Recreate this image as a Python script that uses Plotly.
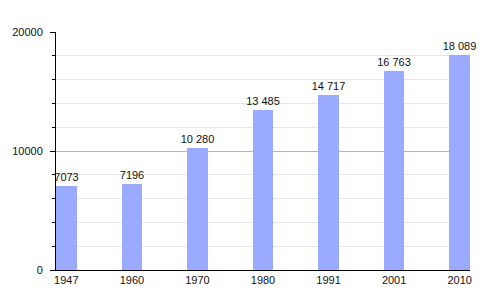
import plotly.graph_objects as go

years = ["1947", "1960", "1970", "1980", "1991", "2001", "2010"]
population = [7073, 7196, 10280, 13485, 14717, 16763, 18089]
labels = ["7073", "7196", "10 280", "13 485", "14 717", "16 763", "18 089"]

fig = go.Figure(go.Bar(
    x=years, y=population, text=labels, textposition="outside",
    texttemplate="%{text}", cliponaxis=False, constraintext="none",
    marker=dict(color="#9aabff", line=dict(width=0)),
    width=0.315,
    textfont=dict(size=11, color="#111", family="Liberation Sans, Arial, sans-serif"),
))

fig.update_layout(
    width=500, height=300,
    margin=dict(l=50, r=30, t=32, b=30),
    paper_bgcolor="white", plot_bgcolor="white",
    font=dict(family="Liberation Sans, Arial, sans-serif", size=11, color="#111"),
    showlegend=False,
    bargap=0,
)
fig.update_xaxes(
    type="category", range=[-0.1575, 6.1575],
    showline=True, linecolor="black", linewidth=1,
    ticks="", showgrid=False, tickfont=dict(size=11),
)
fig.update_yaxes(
    range=[0, 20000], dtick=10000, tickformat="d",
    showline=True, linecolor="black", linewidth=1,
    ticks="outside", ticklen=5, tickcolor="black",
    showgrid=True, gridcolor="#b4b4b4", gridwidth=1,
    zeroline=False, ticklabelstandoff=5,
    minor=dict(dtick=2000, showgrid=True, gridcolor="#e6e6e6", gridwidth=1,
               ticks="outside", ticklen=3, tickcolor="black"),
)

fig.write_html("out.html")
